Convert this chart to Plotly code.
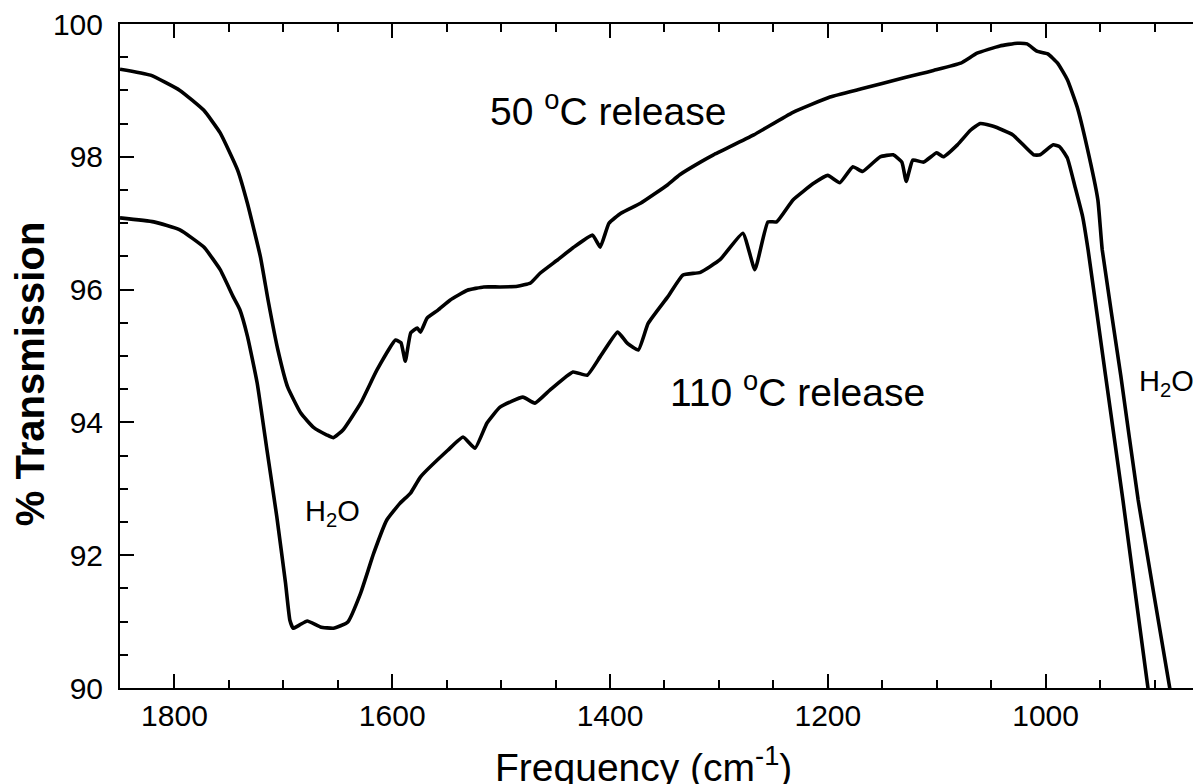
import plotly.graph_objects as go

# ---- data ----
freq_50 = [1850, 1822, 1795, 1773, 1758, 1742, 1733, 1721, 1714, 1705, 1696, 1684, 1672, 1660,
           1654, 1645, 1629, 1614, 1597, 1592, 1588, 1583, 1577, 1574, 1568, 1558, 1547, 1531,
           1516, 1501, 1485, 1473, 1464, 1448, 1434, 1416, 1409, 1401, 1390, 1372, 1347, 1336,
           1317, 1305, 1268, 1232, 1198, 1170, 1130, 1115, 1103, 1078, 1063, 1042, 1026, 1017,
           1008, 998, 989, 980, 971, 962, 952, 948, 931, 915, 886, 884]
trans_50 = [99.32, 99.23, 99.00, 98.70, 98.36, 97.80, 97.30, 96.49, 95.84, 95.09, 94.53, 94.14,
            93.92, 93.81, 93.77, 93.89, 94.29, 94.79, 95.24, 95.20, 94.92, 95.35, 95.42, 95.36,
            95.57, 95.69, 95.84, 95.99, 96.04, 96.04, 96.05, 96.10, 96.25, 96.45, 96.63, 96.82,
            96.64, 97.00, 97.15, 97.30, 97.58, 97.73, 97.92, 98.03, 98.33, 98.67, 98.90, 99.02,
            99.19, 99.25, 99.30, 99.41, 99.56, 99.67, 99.71, 99.70, 99.59, 99.55, 99.41, 99.16,
            98.75, 98.15, 97.35, 96.60, 94.71, 92.83, 90.00, 89.80]

freq_110 = [1850, 1819, 1795, 1773, 1758, 1746, 1740, 1733, 1724, 1715, 1706, 1698, 1694, 1691,
            1685, 1678, 1666, 1654, 1641, 1629, 1617, 1605, 1593, 1583, 1574, 1549, 1535, 1524,
            1513, 1501, 1480, 1469, 1455, 1434, 1421, 1409, 1393, 1384, 1374, 1365, 1347, 1333,
            1317, 1299, 1278, 1267, 1255, 1247, 1232, 1213, 1200, 1189, 1177, 1168, 1152, 1140,
            1132, 1128, 1122, 1112, 1100, 1094, 1081, 1069, 1060, 1048, 1030, 1011, 1005, 993,
            987, 980, 973, 966, 961, 945, 929, 906, 903]
trans_110 = [97.08, 97.02, 96.90, 96.64, 96.30, 95.89, 95.70, 95.30, 94.59, 93.58, 92.58, 91.58,
             91.02, 90.90, 90.95, 91.01, 90.92, 90.90, 90.99, 91.43, 92.03, 92.53, 92.78, 92.94,
             93.18, 93.58, 93.78, 93.61, 93.99, 94.23, 94.38, 94.29, 94.49, 94.76, 94.71, 94.99,
             95.36, 95.19, 95.09, 95.49, 95.89, 96.22, 96.26, 96.45, 96.85, 96.30, 97.02, 97.02,
             97.35, 97.60, 97.72, 97.61, 97.85, 97.78, 98.00, 98.03, 97.92, 97.63, 97.95, 97.92,
             98.06, 98.00, 98.18, 98.40, 98.50, 98.46, 98.33, 98.03, 98.03, 98.18, 98.15, 97.98,
             97.55, 97.10, 96.60, 94.71, 92.83, 90.00, 89.70]

x_ticks = [1800, 1600, 1400, 1200, 1000]
y_ticks = [90, 92, 94, 96, 98, 100]

FONT = "Liberation Sans, Arial, Helvetica, sans-serif"

fig = go.Figure()
for fx, ty, name in [(freq_50, trans_50, "50 °C release"), (freq_110, trans_110, "110 °C release")]:
    fig.add_trace(go.Scatter(x=fx, y=ty, mode="lines", name=name,
                             line=dict(color="black", width=3.6, shape="spline", smoothing=0.4),
                             showlegend=False, hoverinfo="skip"))

axis_common = dict(showgrid=False, zeroline=False, color="black",
                   tickfont=dict(family=FONT, size=30, color="black"),
                   ticks="inside", ticklen=14, tickwidth=2, tickcolor="black",
                   showline=True, linewidth=2, linecolor="black",
                   ticklabeloverflow="allow", automargin=False)

# the page body has an 8px margin: the figure is sized to fit inside the window
fig.update_layout(
    width=1193, height=776,
    paper_bgcolor="white", plot_bgcolor="white",
    margin=dict(l=112, r=0, t=16, b=96, autoexpand=False),
    xaxis=dict(range=[1850, 857.3], tickvals=x_ticks, mirror="ticks",
               minor=dict(dtick=50, ticks="inside", ticklen=8, tickwidth=2, tickcolor="black"),
               **axis_common),
    yaxis=dict(range=[90, 100], tickvals=y_ticks, mirror=False, ticklabelstandoff=9,
               minor=dict(dtick=0.5, ticks="inside", ticklen=8, tickwidth=2, tickcolor="black"),
               **axis_common),
    yaxis2=dict(range=[90, 100], overlaying="y", side="right", tickvals=y_ticks,
                showticklabels=False, showline=False, showgrid=False, zeroline=False,
                automargin=False,
                ticks="inside", ticklen=6, tickwidth=2, tickcolor="black",
                minor=dict(dtick=0.5, ticks="inside", ticklen=1, tickwidth=2, tickcolor="black")),
)

ann_font = dict(family=FONT, size=39, color="black")
fig.add_annotation(x=1512, y=98.72, xref="x", yref="y", text="50 <sup>o</sup>C release",
                   showarrow=False, xanchor="left", yanchor="middle", font=ann_font)
fig.add_annotation(x=1347, y=94.5, xref="x", yref="y", text="110 <sup>o</sup>C release",
                   showarrow=False, xanchor="left", yanchor="middle", font=ann_font)
h2o_font = dict(family=FONT, size=29, color="black")
fig.add_annotation(x=1682, y=92.64, xref="x", yref="y", text="H<sub>2</sub>O",
                   showarrow=False, xanchor="left", yanchor="middle", font=h2o_font)
fig.add_annotation(x=916, y=94.6, xref="x", yref="y", text="H<sub>2</sub>O",
                   showarrow=False, xanchor="left", yanchor="middle", font=h2o_font)

# axis titles
fig.add_annotation(x=0.484, y=0, xref="paper", yref="paper", yshift=-76,
                   text="Frequency (cm<sup>-1</sup>)", showarrow=False,
                   xanchor="center", yanchor="middle", font=ann_font)
fig.add_annotation(x=-0.083, y=0.473, xref="paper", yref="paper", textangle=-90,
                   text="<b>% Transmission</b>", showarrow=False,
                   xanchor="center", yanchor="middle",
                   font=dict(family=FONT, size=40, color="black"))

fig.write_html("out.html")
